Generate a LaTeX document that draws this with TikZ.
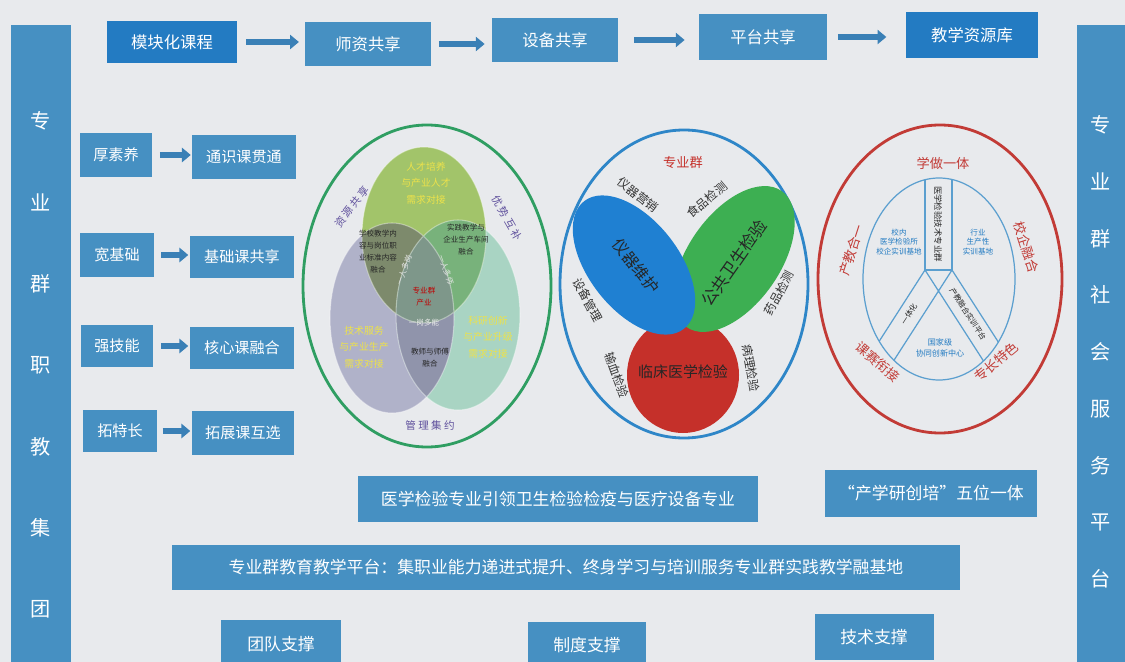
\documentclass[tikz,border=0pt]{standalone}
\usepackage{fontspec}
\setmainfont{Noto Sans CJK SC}
\usepackage{xcolor}
\usetikzlibrary{arrows.meta}

\definecolor{paper}{HTML}{E8EAED}
\definecolor{boxblue}{HTML}{4690C2}
\definecolor{deepblue}{HTML}{237BC2}
\definecolor{arrowblue}{HTML}{3A80B6}
\definecolor{ringgreen}{HTML}{2F9E62}
\definecolor{ringblue}{HTML}{2E86C8}
\definecolor{ringred}{HTML}{C23B36}
\definecolor{linkblue}{HTML}{5B9FCF}
\definecolor{topgreen}{HTML}{A2C46A}
\definecolor{leftgray}{HTML}{B0B2C9}
\definecolor{rightteal}{HTML}{A9D4C3}
\definecolor{tlmix}{HTML}{7D8A6C}
\definecolor{trmix}{HTML}{78B27B}
\definecolor{botmix}{HTML}{9094AB}
\definecolor{midmix}{HTML}{7E978A}
\definecolor{labyellow}{HTML}{EDE24A}
\definecolor{labpurple}{HTML}{5E4F9C}
\definecolor{elblue}{HTML}{1F80D2}
\definecolor{elgreen}{HTML}{3DAF52}
\definecolor{elred}{HTML}{C5302A}

\begin{document}
\begin{tikzpicture}[x=0.02cm,y=0.02cm,
  box/.style={fill=boxblue,text=white,inner sep=0pt,font=\fontsize{9.3}{10}\selectfont},
  deepbox/.style={box,fill=deepblue},
  sidebox/.style={box,font=\fontsize{8.6}{10}\selectfont},
  bar/.style={box,font=\fontsize{9.6}{11}\selectfont},
  arr/.style={draw=arrowblue,line width=3.2pt,-{Triangle[length=5pt,width=8pt]}},
  small/.style={inner sep=0pt,align=center,font=\fontsize{5.6}{9.5}\selectfont},
  tiny/.style={inner sep=0pt,align=center,font=\fontsize{4.3}{6.8}\selectfont},
  ring/.style={line width=1.6pt},
  link/.style={draw=linkblue,line width=0.7pt}]
\useasboundingbox (0,0) rectangle (1125,-662);
\fill[paper] (0,0) rectangle (1125,-662);

% side bars
\node[box,minimum width=1.2cm,minimum height=14cm] (leftbar) at (41,-375) {};
\node[inner sep=0pt,text=white,align=center,font=\fontsize{11.5}{46.3}\selectfont] (lefttext) at (41,-365)
  {专\\业\\群\\职\\教\\集\\团};
\node[box,minimum width=1cm,minimum height=14cm] (rightbar) at (1102,-375) {};
\node[inner sep=0pt,text=white,align=center,font=\fontsize{11.5}{32.3}\selectfont] (righttext) at (1101,-352)
  {专\\业\\群\\社\\会\\服\\务\\平\\台};

% top row
\node[deepbox,minimum width=2.6cm,minimum height=0.84cm] (m1) at (172,-42) {模块化课程};
\node[box,minimum width=2.54cm,minimum height=0.88cm] (m2) at (368,-44) {师资共享};
\node[box,minimum width=2.52cm,minimum height=0.88cm] (m3) at (555,-40) {设备共享};
\node[box,minimum width=2.56cm,minimum height=0.92cm] (m4) at (763,-37) {平台共享};
\node[deepbox,minimum width=2.64cm,minimum height=0.92cm] (m5) at (972,-35) {教学资源库};
\draw[arr,shorten <=5pt,shorten >=3pt] (m1) -- (m1 -| m2.west);
\draw[arr,shorten <=4pt,shorten >=4pt] (m2) -- (m2 -| m3.west);
\draw[arr,shorten <=9pt,shorten >=8pt] (m3) -- (m3 -| m4.west);
\draw[arr,shorten <=6pt,shorten >=11pt] (m4) -- (m4 -| m5.west);

% left column
\node[sidebox,minimum width=1.46cm,minimum height=0.9cm] (a1) at (116,-155) {厚素养};
\node[sidebox,minimum width=2.08cm,minimum height=0.9cm] (b1) at (244,-157) {通识课贯通};
\node[sidebox,minimum width=1.48cm,minimum height=0.88cm] (a2) at (117,-255) {宽基础};
\node[sidebox,minimum width=2.1cm,minimum height=0.86cm] (b2) at (242,-257) {基础课共享};
\node[sidebox,minimum width=1.46cm,minimum height=0.86cm] (a3) at (117,-346) {强技能};
\node[sidebox,minimum width=2.1cm,minimum height=0.86cm] (b3) at (242,-348) {核心课融合};
\node[sidebox,minimum width=1.48cm,minimum height=0.86cm] (a4) at (120,-431) {拓特长};
\node[sidebox,minimum width=2.06cm,minimum height=0.88cm] (b4) at (243,-433) {拓展课互选};
\draw[arr,shorten <=4pt,shorten >=0.5pt] (a1) -- (a1 -| b1.west);
\draw[arr,shorten <=4pt,shorten >=0.5pt] (a2) -- (a2 -| b2.west);
\draw[arr,shorten <=4pt,shorten >=0.5pt] (a3) -- (a3 -| b3.west);
\draw[arr,shorten <=3pt,shorten >=0.5pt] (a4) -- (a4 -| b4.west);

% three needs
\draw[ring,draw=ringgreen] (427,-286) ellipse [x radius=124, y radius=161];
\fill[leftgray] (392,-318) ellipse [x radius=62, y radius=95];
\fill[rightteal] (458,-315) ellipse [x radius=62, y radius=95];
\fill[topgreen] (424,-235) ellipse [x radius=62, y radius=88];
\scope
\clip (392,-318) ellipse [x radius=62, y radius=95];
\fill[botmix] (458,-315) ellipse [x radius=62, y radius=95];
\endscope
\scope
\clip (424,-235) ellipse [x radius=62, y radius=88];
\fill[tlmix] (392,-318) ellipse [x radius=62, y radius=95];
\fill[trmix] (458,-315) ellipse [x radius=62, y radius=95];
\clip (392,-318) ellipse [x radius=62, y radius=95];
\fill[midmix] (458,-315) ellipse [x radius=62, y radius=95];
\endscope
\draw[white,opacity=0.4,line width=0.6pt]
      (392,-318) ellipse [x radius=62, y radius=95]
      (458,-315) ellipse [x radius=62, y radius=95]
      (424,-235) ellipse [x radius=62, y radius=88];
\node[small,text=labyellow] (n1) at (426,-183) {人才培养\\与产业人才\\需求对接};
\node[small,text=labyellow] (n2) at (364,-347) {技术服务\\与产业生产\\需求对接};
\node[small,text=labyellow] (n3) at (488,-337) {科研创新\\与产业升级\\需求对接};
\node[tiny,text=black!85] (n4) at (378,-252) {学校教学内\\容与岗位职\\业标准内容\\融合};
\node[tiny,text=black!85] (n5) at (466,-240) {实践教学与\\企业生产车间\\融合};
\node[tiny,text=black!85] (n6) at (430,-358) {教师与师傅\\融合};
\node[tiny,text=red!75!black] (n7) at (424,-297) {专业群\\产业};
\node[tiny,text=white!85!gray] (n8) at (424,-323) {一岗多能};
\node[tiny,text=white!80!gray,rotate=70] (n9) at (404,-270) {一人多岗};
\node[tiny,text=white!80!gray,rotate=-70] (n10) at (446,-270) {一人多师};
\node[inner sep=0pt,text=labpurple,rotate=52,font=\fontsize{6}{7}\selectfont] (n11) at (352,-207) {资 源 共 享};
\node[inner sep=0pt,text=labpurple,rotate=-60,font=\fontsize{6}{7}\selectfont] (n12) at (507,-218) {优 势 互 补};
\node[inner sep=0pt,text=labpurple,font=\fontsize{6}{7}\selectfont] (n13) at (430,-425) {管 理 集 约};

% professional group
\draw[ring,draw=ringblue] (684,-284) ellipse [x radius=124, y radius=154];
\fill[elred] (683,-375) ellipse [x radius=56, y radius=58];
\fill[elgreen] (734,-259) ellipse [x radius=83, y radius=46, rotate=55];
\fill[elblue] (634,-265) ellipse [x radius=81, y radius=45, rotate=-52];
\node[inner sep=0pt,text=black!85,rotate=-52,font=\fontsize{9}{10}\selectfont] (g1) at (636,-266) {仪器维护};
\node[inner sep=0pt,text=black!85,rotate=55,font=\fontsize{9.5}{10}\selectfont] (g2) at (734,-263) {公共卫生检验};
\node[inner sep=0pt,text=black!85,font=\fontsize{8.5}{10}\selectfont] (g3) at (683,-372) {临床医学检验};
\node[inner sep=0pt,text=elred,font=\fontsize{7.5}{9}\selectfont] (g4) at (683,-162) {专业群};
\node[inner sep=0pt,text=black!80,rotate=-38,font=\fontsize{6.8}{8}\selectfont] (g5) at (638,-195) {仪器营销};
\node[inner sep=0pt,text=black!80,rotate=40,font=\fontsize{6.8}{8}\selectfont] (g6) at (707,-200) {食品检测};
\node[inner sep=0pt,text=black!80,rotate=62,font=\fontsize{6.8}{8}\selectfont] (g7) at (779,-293) {药品检测};
\node[inner sep=0pt,text=black!80,rotate=-80,font=\fontsize{6.8}{8}\selectfont] (g8) at (751,-368) {病理检验};
\node[inner sep=0pt,text=black!80,rotate=-62,font=\fontsize{6.8}{8}\selectfont] (g9) at (588,-300) {设备管理};
\node[inner sep=0pt,text=black!80,rotate=-70,font=\fontsize{6.8}{8}\selectfont] (g10) at (617,-375) {输血检验};

% five in one
\draw[ring,draw=ringred] (940,-279) ellipse [x radius=122, y radius=154];
\draw[link] (939,-279) ellipse [x radius=76, y radius=101];
\scope
\clip (939,-279) ellipse [x radius=76, y radius=101];
\draw[link] (925,-150) -- (925,-270) -- (952,-270) -- (952,-150);
\draw[link] (925,-270) -- (835,-410)
            (952,-270) -- (862,-410)
            (952,-270) -- (1042,-410)
            (925,-270) -- (1015,-410);
\endscope
\node[inner sep=0pt,text=ringred,font=\fontsize{7.5}{9}\selectfont] (p1) at (943,-163) {学做一体};
\node[inner sep=0pt,text=ringred,rotate=72,font=\fontsize{7.5}{9}\selectfont] (p2) at (852,-250) {产教合一};
\node[inner sep=0pt,text=ringred,rotate=-72,font=\fontsize{7.5}{9}\selectfont] (p3) at (1026,-247) {校企融合};
\node[inner sep=0pt,text=ringred,rotate=-40,font=\fontsize{7.5}{9}\selectfont] (p4) at (878,-362) {课赛衔接};
\node[inner sep=0pt,text=ringred,rotate=40,font=\fontsize{7.5}{9}\selectfont] (p5) at (996,-362) {专长特色};
\node[tiny,text=deepblue,font=\fontsize{4.3}{5.4}\selectfont] (q1) at (899,-242) {校内\\医学检验所\\校企实训基地};
\node[tiny,text=deepblue,font=\fontsize{4.3}{5.4}\selectfont] (q2) at (978,-242) {行业\\生产性\\实训基地};
\node[tiny,text=deepblue,font=\fontsize{4.6}{6}\selectfont] (q3) at (940,-348) {国家级\\协同创新中心};
\node[tiny,text=black!85,rotate=-90,font=\fontsize{4.8}{6}\selectfont] (q4) at (938,-224) {医学检验技术专业群};
\node[tiny,text=black!85,rotate=57] (q5) at (909,-314) {一体化};
\node[tiny,text=black!85,rotate=-57] (q6) at (968,-314) {产教融合实训平台};

% bottom
\node[bar,minimum width=8cm,minimum height=0.92cm] (c1) at (558,-499) {医学检验专业引领卫生检验检疫与医疗设备专业};
\node[bar,minimum width=4.26cm,minimum height=0.94cm] (c2) at (931,-493) {“产学研创培”五位一体};
\node[bar,minimum width=15.76cm,minimum height=0.9cm] (c3) at (566,-567) {专业群教育教学平台：集职业能力递进式提升、终身学习与培训服务专业群实践教学融基地};
\node[bar,minimum width=2.42cm,minimum height=0.96cm] (d1) at (281,-644) {团队支撑};
\node[bar,minimum width=2.38cm,minimum height=0.92cm] (d2) at (587,-645) {制度支撑};
\node[bar,minimum width=2.38cm,minimum height=0.92cm] (d3) at (874,-637) {技术支撑};
\end{tikzpicture}
\end{document}
